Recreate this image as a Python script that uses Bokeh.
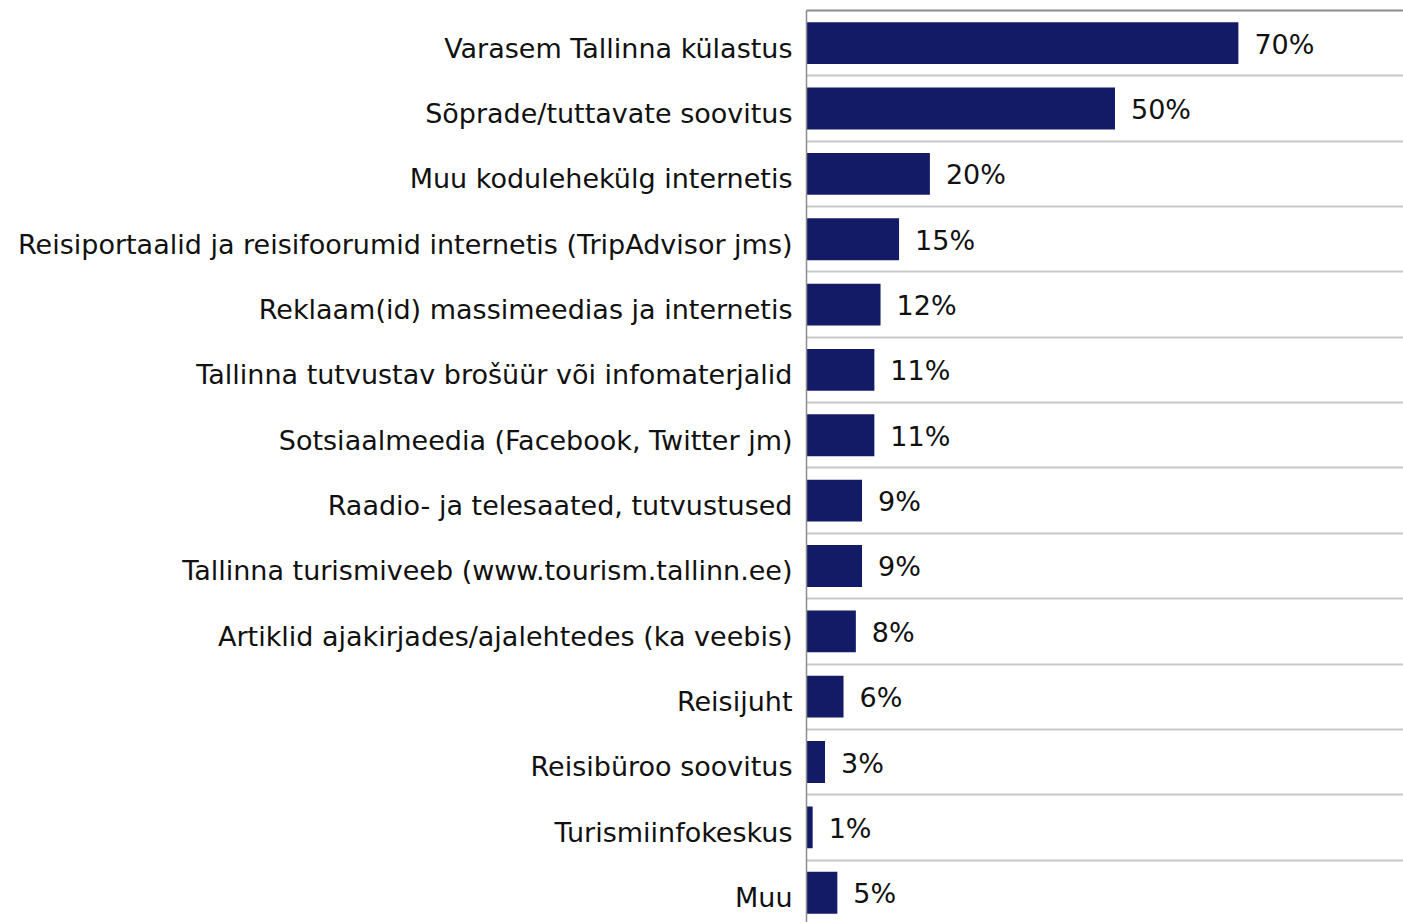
from bokeh.plotting import figure
from bokeh.models import ColumnDataSource, Range1d, FixedTicker, LinearAxis, Grid
from bokeh.embed import file_html
from bokeh.resources import INLINE
from bokeh.core.properties import value

categories = [
    "Varasem Tallinna külastus",
    "Sõprade/tuttavate soovitus",
    "Muu kodulehekülg internetis",
    "Reisiportaalid ja reisifoorumid internetis (TripAdvisor jms)",
    "Reklaam(id) massimeedias ja internetis",
    "Tallinna tutvustav brošüür või infomaterjalid",
    "Sotsiaalmeedia (Facebook, Twitter jm)",
    "Raadio- ja telesaated, tutvustused",
    "Tallinna turismiveeb (www.tourism.tallinn.ee)",
    "Artiklid ajakirjades/ajalehtedes (ka veebis)",
    "Reisijuht",
    "Reisibüroo soovitus",
    "Turismiinfokeskus",
    "Muu",
]
values = [70, 50, 20, 15, 12, 11, 11, 9, 9, 8, 6, 3, 1, 5]

n = len(categories)
ypos = [n - 0.5 - i for i in range(n)]
labels = [f"{v}%" for v in values]
label_ticks = [y - 0.075 for y in ypos]

FONT = "DejaVu Sans"
BAR = "#141B66"

src = ColumnDataSource(dict(y=ypos, v=values, lab=labels, cat=categories))

p = figure(width=1403, height=922, output_backend="svg", toolbar_location=None,
           x_range=Range1d(0, 96.76), y_range=Range1d(n - 912 / 65.35, n),
           min_border_left=806, min_border_right=0, min_border_top=10, min_border_bottom=0,
           x_axis_location=None, y_axis_location=None)
p.outline_line_color = None
p.background_fill_color = "white"
p.border_fill_color = "white"

p.hbar(y="y", right="v", left=0, height=0.64, source=src, color=BAR, line_color=None)
p.text(x="v", y="y", text="lab", source=src, x_offset=16, y_offset=1, text_baseline="middle",
       text_align="left", text_font=value(FONT), text_font_size="27px", text_color="#111111")

# left category axis
yax = LinearAxis(ticker=FixedTicker(ticks=label_ticks),
                 major_label_overrides={t: c for t, c in zip(label_ticks, categories)})
yax.major_tick_line_color = None
yax.minor_tick_line_color = None
yax.axis_line_color = "#8c8c8c"
yax.axis_line_width = 1.5
yax.major_label_text_font = FONT
yax.major_label_text_font_size = "27px"
yax.major_label_text_color = "#111111"
yax.major_label_standoff = 8
p.add_layout(yax, "left")

# top border
top = LinearAxis(ticker=FixedTicker(ticks=[]))
top.major_tick_line_color = None
top.minor_tick_line_color = None
top.major_label_text_font_size = "0px"
top.axis_line_color = "#8c8c8c"
top.axis_line_width = 2
p.add_layout(top, "above")

p.xgrid.visible = False
p.ygrid.visible = False
g = Grid(dimension=1, ticker=FixedTicker(ticks=list(range(1, n))),
         grid_line_color="#c8c8c8", grid_line_width=2)
p.add_layout(g)

open("out.html", "w").write(file_html(p, INLINE))
